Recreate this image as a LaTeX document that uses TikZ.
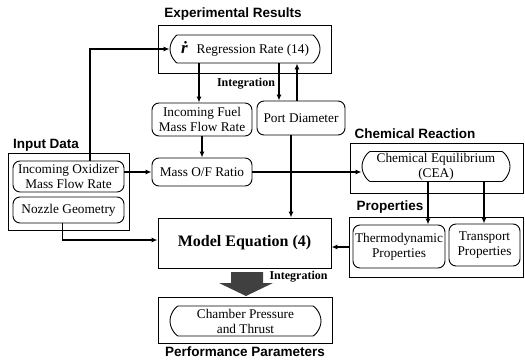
\documentclass[tikz,border=0pt]{standalone}
\usepackage{fontspec}
\setmainfont{Liberation Serif}
\newfontfamily\headfont{Liberation Sans}
\usetikzlibrary{arrows.meta,shapes.misc}
\tikzset{>={Latex[width=5pt,length=6pt]}}
\tikzset{
  group/.style={draw, line width=0.8pt, inner sep=0pt},
  item/.style={draw, rounded corners=7pt, line width=0.9pt, align=center,
    inner sep=0pt, font=\fontsize{13.3}{15}\selectfont},
  pill/.style={item, rounded rectangle},
  heading/.style={font=\headfont\bfseries\fontsize{13.5}{16}\selectfont},
  note/.style={font=\bfseries\fontsize{12}{14}\selectfont},
  flow/.style={->, line width=1.3pt},
}

\begin{document}
\begin{tikzpicture}[x=1pt, y=-1pt]

  \useasboundingbox (0,0) rectangle (525,362);

  % group boxes
  \node[group, minimum width=173, minimum height=48] (expbox) at (244.5,49) {};
  \node[group, minimum width=121, minimum height=77] (inbox) at (68.5,191.5) {};
  \node[group, minimum width=173, minimum height=50] (chembox) at (436.5,168) {};
  \node[group, minimum width=174, minimum height=60] (propbox) at (436,247) {};
  \node[group, minimum width=174, minimum height=46] (perfbox) at (245,320) {};

  \node[heading] at (233,14) {Experimental Results};
  \node[heading] at (46,145) {Input Data};
  \node[heading] at (415,134) {Chemical Reaction};
  \node[heading] at (390,207) {Properties};
  \node[heading] at (245,352) {Performance Parameters};

  % blocks
  \node[pill, minimum width=150, minimum height=28] (regrate) at (245,49)
    {{\fontsize{17}{17}\selectfont\bfseries\itshape \.r}\hspace{9pt}Regression Rate (14)};
  \node[item, minimum width=100, minimum height=33] (fuel) at (202,119.5)
    {Incoming Fuel\\Mass Flow Rate};
  \node[item, minimum width=88, minimum height=34] (port) at (301,118) {Port Diameter};
  \node[item, minimum width=111, minimum height=31] (oxid) at (68.5,176.5)
    {Incoming Oxidizer\\Mass Flow Rate};
  \node[item, minimum width=111, minimum height=26] (nozzle) at (68.5,210) {Nozzle Geometry};
  \node[item, minimum width=100, minimum height=28] (ofratio) at (202,172) {Mass O/F Ratio};
  \node[pill, minimum width=148, minimum height=30] (cea) at (436,166.5)
    {Chemical Equilibrium\\(CEA)};
  \node[item, minimum width=92, minimum height=43] (thermo) at (399,246.5)
    {Thermodynamic\\Properties};
  \node[item, minimum width=71, minimum height=42] (transport) at (484.5,245)
    {Transport\\Properties};
  \node[draw, line width=0.9pt, minimum width=173, minimum height=50,
    font=\bfseries\fontsize{16}{18}\selectfont] (model) at (244.5,243) {Model Equation (4)};
  \node[pill, minimum width=151, minimum height=30] (chamber) at (245.5,321)
    {Chamber Pressure\\and Thrust};

  % connectors
  \draw[flow] ([xshift=21.5pt]oxid.north) |- (regrate.west);
  \draw[flow] (regrate.south -| 199,0) -- (199,0 |- fuel.north);
  \draw[flow] (regrate.south -| 279,0) -- (279,0 |- port.north);
  \draw[flow] (297,0 |- port.north) -- (297,0 |- regrate.south);
  \node[note] at (246,84) {Integration};
  \draw[flow] (fuel.south) -- (ofratio.north);
  \draw[flow] (oxid.east |- ofratio.west) -- (ofratio.west); % oxidizer -> O/F
  \draw[flow] (ofratio.east) -- (ofratio.east -| cea.west);  % O/F -> CEA
  \draw[flow] ([xshift=-10pt]port.south) -- ([xshift=-10pt]port.south |- model.north);
  \draw[flow] ([xshift=-8pt]cea.south) -- ([xshift=-8pt]cea.south |- thermo.north);
  \draw[flow] ([xshift=48pt]cea.south) -- ([xshift=48pt]cea.south |- transport.north);
  \draw[flow] (propbox.west) -- (propbox.west -| model.east);
  \draw[flow] ([xshift=-6pt]nozzle.south) |- ([yshift=3pt]model.west);

  % integration arrow
  \fill[black!75] (231,272) -- (263,272) -- (263,283) -- (273,283) -- (246,296)
    -- (219,283) -- (231,283) -- cycle;
  \node[note, anchor=west] at (266,277) {Integration};

\end{tikzpicture}
\end{document}
